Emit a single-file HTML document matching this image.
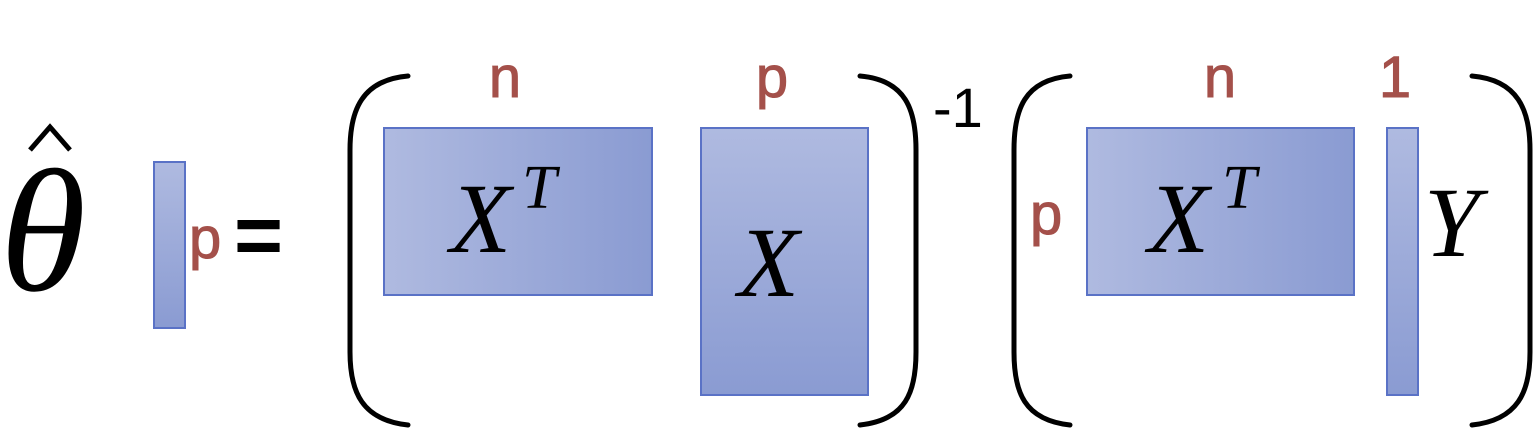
<!DOCTYPE html>
<html>
<head>
<meta charset="utf-8">
<style>
html,body{margin:0;padding:0;background:#fff;}
svg{display:block;}
.lbl{font-family:"Liberation Sans",sans-serif;font-size:58px;fill:#a4504a;stroke:#a4504a;stroke-width:1;}
.math{font-family:"Liberation Serif",serif;font-style:italic;fill:#000;}
.par{fill:none;stroke:#000;stroke-width:5;stroke-linecap:round;}
.box{stroke:#5a72c6;stroke-width:2;}
</style>
</head>
<body>
<svg width="1536" height="430" viewBox="0 0 1536 430">
<defs>
<linearGradient id="gh" x1="0" y1="0" x2="1" y2="0">
<stop offset="0" stop-color="#afbae0"/><stop offset="1" stop-color="#8a9bd2"/>
</linearGradient>
<linearGradient id="gv" x1="0" y1="0" x2="0" y2="1">
<stop offset="0" stop-color="#afbae0"/><stop offset="1" stop-color="#8a9bd2"/>
</linearGradient>
</defs>

<g>
<path d="M30,150 L50,127 L70,150" fill="none" stroke="#000" stroke-width="5"/>
<text x="0" y="290" class="math" font-size="175">θ</text>
</g>
<rect x="154" y="162" width="31" height="166" fill="url(#gv)" class="box"/>
<text x="189" y="258" class="lbl">p</text>
<text x="234" y="264" font-family="Liberation Sans,sans-serif" font-size="84" font-weight="bold">=</text>

<path class="par" d="M408,76 C362,80 350,110 350,150 L350,352 C350,392 362,420 408,425"/>
<text x="505" y="97" class="lbl" text-anchor="middle">n</text>
<text x="772" y="97" class="lbl" text-anchor="middle">p</text>
<rect x="384" y="128" width="268" height="167" fill="url(#gh)" class="box"/>
<text x="450" y="252" class="math" font-size="100">X</text>
<text x="522" y="208" class="math" font-size="62">T</text>
<rect x="701" y="128" width="167" height="267" fill="url(#gv)" class="box"/>
<text x="738" y="296" class="math" font-size="100">X</text>
<path class="par" d="M860,76 C906,80 916,110 916,150 L916,352 C916,392 906,420 860,425"/>
<text x="933" y="127" font-family="Liberation Sans,sans-serif" font-size="56">-1</text>

<path class="par" d="M1070,76 C1024,80 1014,110 1014,150 L1014,352 C1014,392 1024,420 1070,425"/>
<text x="1220" y="97" class="lbl" text-anchor="middle">n</text>
<text x="1395" y="97" class="lbl" text-anchor="middle">1</text>
<text x="1030" y="234" class="lbl">p</text>
<rect x="1087" y="128" width="267" height="167" fill="url(#gh)" class="box"/>
<text x="1148" y="252" class="math" font-size="100">X</text>
<text x="1222" y="208" class="math" font-size="62">T</text>
<rect x="1387" y="128" width="31" height="267" fill="url(#gv)" class="box"/>
<text x="1424" y="256" class="math" font-size="100">Y</text>
<path class="par" d="M1472,76 C1518,80 1530,110 1530,150 L1530,352 C1530,392 1518,420 1472,425"/>
</svg>
</body>
</html>
